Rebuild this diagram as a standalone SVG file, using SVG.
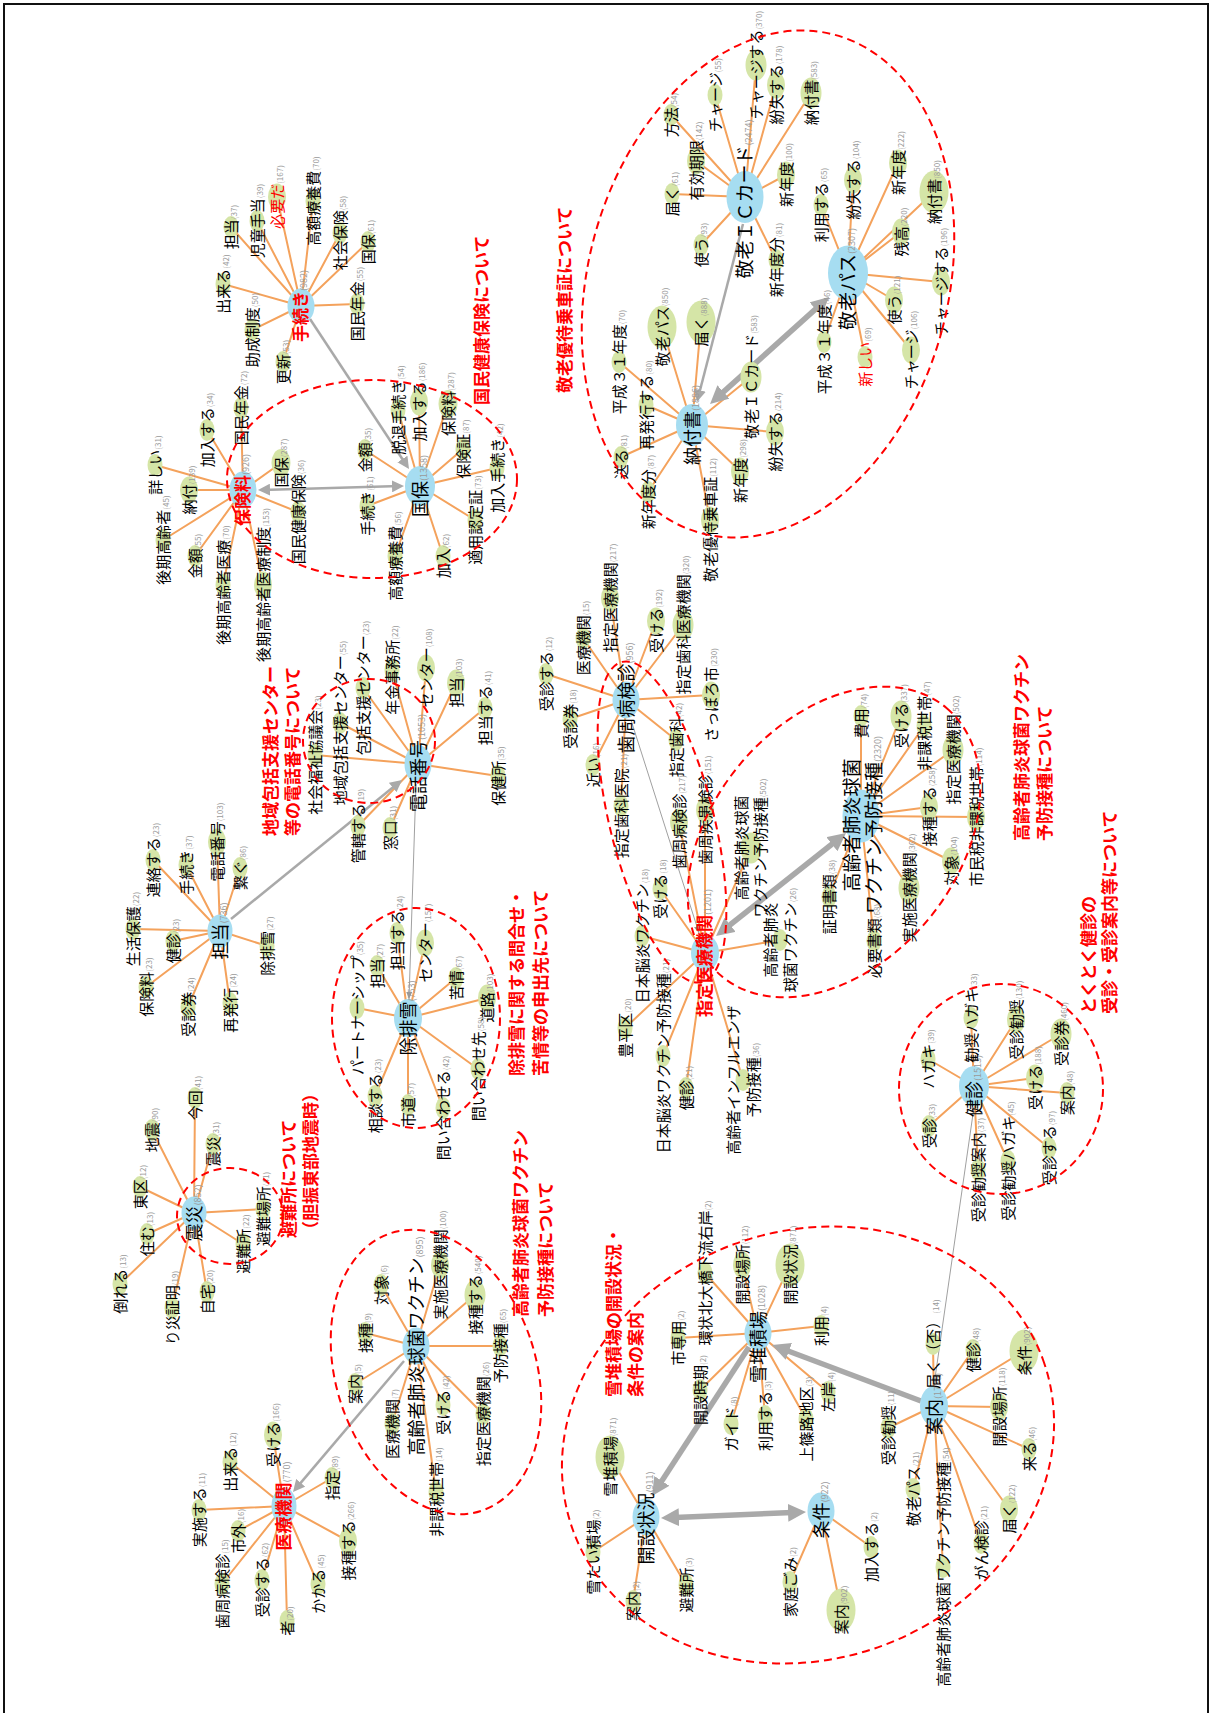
<svg xmlns="http://www.w3.org/2000/svg" width="1210" height="1713" viewBox="0 0 1210 1713">
<style>
.hub{fill:#a6ddf1}
.lf{fill:#d5e5a7}
.e{fill:none;stroke:#f4a25c;stroke-width:2}
.g1{fill:none;stroke:#a9a9a9;stroke-width:2.5}
.g2{fill:none;stroke:#a9a9a9;stroke-width:5.5}
.g0{fill:none;stroke:#a0a0a0;stroke-width:1}
.cl{fill:none;stroke:#f00;stroke-width:2;stroke-dasharray:8 5}
text{font-family:"Noto Sans CJK JP","Noto Sans CJK SC",sans-serif}
.t{font-size:15px;fill:#000;text-anchor:middle}
.h{font-size:18px}
.r{fill:#f00;font-weight:bold;font-size:17px}
.rt{fill:#f00}
.c{font-size:8px;fill:#9a9a9a;font-weight:normal}
.hc{font-size:9px}
.ttl{font-size:17px;font-weight:bold;fill:#f00}
</style>
<defs>
<marker id="ms" viewBox="0 0 12 12" refX="8" refY="6" markerWidth="12" markerHeight="12" markerUnits="userSpaceOnUse" orient="auto-start-reverse"><path d="M0,0L12,6L0,12z" fill="#a9a9a9"/></marker>
<marker id="ml" viewBox="0 0 18 18" refX="10" refY="9" markerWidth="18" markerHeight="18" markerUnits="userSpaceOnUse" orient="auto-start-reverse"><path d="M0,0L18,9L0,18z" fill="#a9a9a9"/></marker>
<marker id="mt" viewBox="0 0 7 6" refX="7" refY="3" markerWidth="7" markerHeight="6" markerUnits="userSpaceOnUse" orient="auto-start-reverse"><path d="M0,0L7,3L0,6z" fill="#999"/></marker>
</defs>
<rect width="1210" height="1713" fill="#fff"/>
<path d="M4,1713V4H1208V1713" fill="none" stroke="#111" stroke-width="2"/>

<g id="connectors">
<path class="e" d="M301,306L223,284M301,306L231,227M301,306L257,221M301,306L277,197M301,306L313,201M301,306L340,233M301,306L368,242M301,306L357,304M301,306L252,330M301,306L283,362"/>
<path class="e" d="M243,490L155,465M243,490L189,490M243,490L163,540M243,490L195,556M243,490L223,585M243,490L263,585M243,490L298,512M243,490L281,463M243,490L207,430M243,490L241,408"/>
<path class="e" d="M420,486L365,450M420,486L367,506M420,486L395,556M420,486L398,410M420,486L419,402M420,486L448,404M420,486L463,449M420,486L497,468M420,486L475,520M420,486L443,556"/>
<path class="e" d="M745,197L671,115M745,197L696,161M745,197L672,194M745,197L701,245M745,197L715,95M745,197L756,65M745,197L776,85M745,197L811,93M745,197L786,175M745,197L776,260"/>
<path class="e" d="M848,273L821,205M848,273L853,180M848,273L898,163M848,273L901,232M848,273L934,192M848,273L941,282M848,273L894,300M848,273L911,350M848,273L865,357M848,273L824,342"/>
<path class="e" d="M692,425L619,362M692,425L662,327M692,425L701,322M692,425L751,377M692,425L646,405M692,425L775,432M692,425L621,457M692,425L648,492M692,425L710,520M692,425L740,471"/>
<path class="e" d="M418,764L315,755M418,764L340,723M418,764L363,688M418,764L392,670M418,764L358,826M418,764L390,828M418,764L426,668M418,764L456,683M418,764L485,708M418,764L498,776"/>
<path class="e" d="M220,931L133,929M220,931L173,941M220,931L146,987M220,931L188,1007M220,931L230,1003M220,931L267,946M220,931L153,860M220,931L186,865M220,931L217,842M220,931L240,868"/>
<path class="e" d="M408,1018L397,933M408,1018L377,966M408,1018L357,1008M408,1018L375,1096M408,1018L425,943M408,1018L456,978M408,1018L487,998M408,1018L478,1069M408,1018L443,1108M408,1018L408,1105"/>
<path class="e" d="M194,1213L152,1130M194,1213L195,1098M194,1213L213,1144M194,1213L140,1187M194,1213L147,1234M194,1213L263,1209M194,1213L243,1244M194,1213L120,1284M194,1213L172,1308M194,1213L207,1292"/>
<path class="e" d="M284,1506L273,1435M284,1506L230,1462M284,1506L199,1510M284,1506L238,1531M284,1506L222,1584M284,1506L262,1580M284,1506L287,1621M284,1506L318,1584M284,1506L348,1541M284,1506L332,1478"/>
<path class="e" d="M416,1346L365,1333M416,1346L355,1384M416,1346L392,1424M416,1346L381,1285M416,1346L440,1265M416,1346L475,1295M416,1346L500,1346M416,1346L483,1414M416,1346L443,1405M416,1346L436,1492"/>
<path class="e" d="M646,1517L610,1457M646,1517L593,1552M646,1517L633,1601M646,1517L686,1585"/>
<path class="e" d="M758,1333L678,1338M758,1333L700,1390M758,1333L731,1424M758,1333L765,1416M758,1333L806,1419M758,1333L828,1392M758,1333L821,1326M758,1333L742,1265M758,1333L790,1265M758,1333L705,1273"/>
<path class="e" d="M821,1511L871,1547M821,1511L841,1610M821,1511L790,1582"/>
<path class="e" d="M934,1406L933,1344M934,1406L973,1350M934,1406L1024,1351M934,1406L999,1407M934,1406L1029,1449M934,1406L1009,1509M934,1406L981,1543M934,1406L943,1567M934,1406L913,1489M934,1406L888,1428"/>
<path class="e" d="M974,1086L928,1059M974,1086L971,1018M974,1086L1016,1020M974,1086L1061,1034M974,1086L1035,1078M974,1086L1067,1093M974,1086L1049,1148M974,1086L1008,1161M974,1086L978,1170M974,1086L929,1126"/>
<path class="e" d="M626,700L546,674M626,700L583,638M626,700L610,598M626,700L656,621M626,700L683,625M626,700L711,695M626,700L676,740M626,700L570,719M626,700L593,765M626,700L621,806"/>
<path class="e" d="M705,953L660,889M705,953L642,936M705,953L663,1056M705,953L625,1028M705,953L686,1088M705,953L743,1080M705,953L780,940M705,953L751,848M705,953L679,822M705,953L705,810"/>
<path class="e" d="M861,816L861,716M861,816L901,716M861,816L924,726M861,816L953,750M861,816L976,817M861,816L929,807M861,816L951,861M861,816L909,888M861,816L874,941M861,816L829,897"/>
<path class="g1" d="M310,319L406.8,465.7" marker-end="url(#ms)"/>
<path class="g1" d="M262,489.9L400,486.1" marker-start="url(#ms)" marker-end="url(#ms)"/>
<path class="g1" d="M743,224L698,398" marker-end="url(#ms)"/>
<path class="g2" d="M716,398.6L823,302.4" marker-start="url(#ml)" marker-end="url(#ml)"/>
<path class="g1" d="M231,919L398.9,782.5" marker-end="url(#ms)"/>
<path class="g0" d="M416,784L409,999" marker-end="url(#mt)"/>
<path class="g1" d="M404,1361L295.6,1488.9" marker-end="url(#ms)"/>
<path class="g2" d="M749,1347L656.4,1489.3" marker-end="url(#ml)"/>
<path class="g2" d="M669,1517.7L798,1512.3" marker-start="url(#ml)" marker-end="url(#ml)"/>
<path class="g2" d="M921,1401L779.5,1347.8" marker-end="url(#ml)"/>
<path class="g0" d="M974,1107L934,1385" marker-end="url(#mt)"/>
<path class="g2" d="M722.3,931L839.7,838" marker-start="url(#ml)" marker-end="url(#ml)"/>
<path class="g0" d="M631,720L699,933" marker-end="url(#mt)"/>
</g>

<g id="c1">
<g id="h-tetsuzuki"><ellipse class="hub" cx="301" cy="306" rx="13.5" ry="17.5"/><text class="t h r" transform="translate(301,306) rotate(-90)" dy=".38em">手続き<tspan class="c hc">(982)</tspan></text></g>
<g id="c1-1"><ellipse class="lf" cx="223" cy="284" rx="7.5" ry="11"/><text class="t" transform="translate(223,284) rotate(-90)" dy=".38em">出来る<tspan class="c">(42)</tspan></text></g>
<g id="c1-2"><ellipse class="lf" cx="231" cy="227" rx="7.5" ry="11"/><text class="t" transform="translate(231,227) rotate(-90)" dy=".38em">担当<tspan class="c">(37)</tspan></text></g>
<g id="c1-3"><ellipse class="lf" cx="257" cy="221" rx="7.5" ry="11"/><text class="t" transform="translate(257,221) rotate(-90)" dy=".38em">児童手当<tspan class="c">(39)</tspan></text></g>
<g id="c1-4"><ellipse class="lf" cx="277" cy="197" rx="9" ry="13.5"/><text class="t rt" transform="translate(277,197) rotate(-90)" dy=".38em">必要だ<tspan class="c">(167)</tspan></text></g>
<g id="c1-5"><ellipse class="lf" cx="313" cy="201" rx="7.5" ry="11"/><text class="t" transform="translate(313,201) rotate(-90)" dy=".38em">高額療養費<tspan class="c">(70)</tspan></text></g>
<g id="c1-6"><ellipse class="lf" cx="340" cy="233" rx="7.5" ry="11"/><text class="t" transform="translate(340,233) rotate(-90)" dy=".38em">社会保険<tspan class="c">(58)</tspan></text></g>
<g id="c1-7"><ellipse class="lf" cx="368" cy="242" rx="7.5" ry="11"/><text class="t" transform="translate(368,242) rotate(-90)" dy=".38em">国保<tspan class="c">(61)</tspan></text></g>
<g id="c1-8"><ellipse class="lf" cx="357" cy="304" rx="7.5" ry="11"/><text class="t" transform="translate(357,304) rotate(-90)" dy=".38em">国民年金<tspan class="c">(55)</tspan></text></g>
<g id="c1-9"><ellipse class="lf" cx="252" cy="330" rx="7.5" ry="11"/><text class="t" transform="translate(252,330) rotate(-90)" dy=".38em">助成制度<tspan class="c">(50)</tspan></text></g>
<g id="c1-10"><ellipse class="lf" cx="283" cy="362" rx="7.5" ry="11"/><text class="t" transform="translate(283,362) rotate(-90)" dy=".38em">更新<tspan class="c">(53)</tspan></text></g>
</g>

<g id="c2">
<g id="h-hokenryo"><ellipse class="hub" cx="243" cy="490" rx="13.5" ry="18.5"/><text class="t h r" transform="translate(243,490) rotate(-90)" dy=".38em">保険料<tspan class="c hc">(926)</tspan></text></g>
<g id="c2-1"><ellipse class="lf" cx="155" cy="465" rx="7.5" ry="11"/><text class="t" transform="translate(155,465) rotate(-90)" dy=".38em">詳しい<tspan class="c">(31)</tspan></text></g>
<g id="c2-2"><ellipse class="lf" cx="189" cy="490" rx="9" ry="13.5"/><text class="t" transform="translate(189,490) rotate(-90)" dy=".38em">納付<tspan class="c">(139)</tspan></text></g>
<g id="c2-3"><ellipse class="lf" cx="163" cy="540" rx="7.5" ry="11"/><text class="t" transform="translate(163,540) rotate(-90)" dy=".38em">後期高齢者<tspan class="c">(45)</tspan></text></g>
<g id="c2-4"><ellipse class="lf" cx="195" cy="556" rx="7.5" ry="11"/><text class="t" transform="translate(195,556) rotate(-90)" dy=".38em">金額<tspan class="c">(55)</tspan></text></g>
<g id="c2-5"><ellipse class="lf" cx="223" cy="585" rx="7.5" ry="11"/><text class="t" transform="translate(223,585) rotate(-90)" dy=".38em">後期高齢者医療<tspan class="c">(70)</tspan></text></g>
<g id="c2-6"><ellipse class="lf" cx="263" cy="585" rx="9" ry="13.5"/><text class="t" transform="translate(263,585) rotate(-90)" dy=".38em">後期高齢者医療制度<tspan class="c">(153)</tspan></text></g>
<g id="c2-7"><ellipse class="lf" cx="298" cy="512" rx="7.5" ry="11"/><text class="t" transform="translate(298,512) rotate(-90)" dy=".38em">国民健康保険<tspan class="c">(36)</tspan></text></g>
<g id="c2-8"><ellipse class="lf" cx="281" cy="463" rx="9.5" ry="14"/><text class="t" transform="translate(281,463) rotate(-90)" dy=".38em">国保<tspan class="c">(287)</tspan></text></g>
<g id="c2-9"><ellipse class="lf" cx="207" cy="430" rx="7.5" ry="11"/><text class="t" transform="translate(207,430) rotate(-90)" dy=".38em">加入する<tspan class="c">(34)</tspan></text></g>
<g id="c2-10"><ellipse class="lf" cx="241" cy="408" rx="7.5" ry="11"/><text class="t" transform="translate(241,408) rotate(-90)" dy=".38em">国民年金<tspan class="c">(72)</tspan></text></g>
<g id="h-kokuho"><ellipse class="hub" cx="420" cy="486" rx="15" ry="20"/><text class="t h" transform="translate(420,486) rotate(-90)" dy=".38em">国保<tspan class="c hc">(1358)</tspan></text></g>
<g id="c2-11"><ellipse class="lf" cx="365" cy="450" rx="7.5" ry="11"/><text class="t" transform="translate(365,450) rotate(-90)" dy=".38em">金額<tspan class="c">(35)</tspan></text></g>
<g id="c2-12"><ellipse class="lf" cx="367" cy="506" rx="7.5" ry="11"/><text class="t" transform="translate(367,506) rotate(-90)" dy=".38em">手続き<tspan class="c">(61)</tspan></text></g>
<g id="c2-13"><ellipse class="lf" cx="395" cy="556" rx="7.5" ry="11"/><text class="t" transform="translate(395,556) rotate(-90)" dy=".38em">高額療養費<tspan class="c">(56)</tspan></text></g>
<g id="c2-14"><ellipse class="lf" cx="398" cy="410" rx="7.5" ry="11"/><text class="t" transform="translate(398,410) rotate(-90)" dy=".38em">脱退手続き<tspan class="c">(54)</tspan></text></g>
<g id="c2-15"><ellipse class="lf" cx="419" cy="402" rx="9" ry="13.5"/><text class="t" transform="translate(419,402) rotate(-90)" dy=".38em">加入する<tspan class="c">(186)</tspan></text></g>
<g id="c2-16"><ellipse class="lf" cx="448" cy="404" rx="9.5" ry="14"/><text class="t" transform="translate(448,404) rotate(-90)" dy=".38em">保険料<tspan class="c">(287)</tspan></text></g>
<g id="c2-17"><ellipse class="lf" cx="463" cy="449" rx="7.5" ry="11"/><text class="t" transform="translate(463,449) rotate(-90)" dy=".38em">保険証<tspan class="c">(87)</tspan></text></g>
<g id="c2-18"><ellipse class="lf" cx="497" cy="468" rx="7.5" ry="11"/><text class="t" transform="translate(497,468) rotate(-90)" dy=".38em">加入手続き<tspan class="c">(42)</tspan></text></g>
<g id="c2-19"><ellipse class="lf" cx="475" cy="520" rx="7.5" ry="11"/><text class="t" transform="translate(475,520) rotate(-90)" dy=".38em">適用認定証<tspan class="c">(73)</tspan></text></g>
<g id="c2-20"><ellipse class="lf" cx="443" cy="556" rx="7.5" ry="11"/><text class="t" transform="translate(443,556) rotate(-90)" dy=".38em">加入<tspan class="c">(62)</tspan></text></g>
</g>

<g id="c3">
<g id="h-iccard"><ellipse class="hub" cx="745" cy="197" rx="18.5" ry="26"/><text class="t h" style="font-size:19px" transform="translate(745,199) rotate(-90)" dy=".38em">敬老ＩＣカード<tspan class="c hc">(2474)</tspan></text></g>
<g id="h-pass"><ellipse class="hub" cx="848" cy="273" rx="20" ry="27.5"/><text class="t h" style="font-size:19px" transform="translate(848,279) rotate(-90)" dy=".38em">敬老パス<tspan class="c hc">(2307)</tspan></text></g>
<g id="h-nofusho"><ellipse class="hub" cx="692" cy="425" rx="16" ry="21"/><text class="t h" transform="translate(692,425) rotate(-90)" dy=".38em">納付書<tspan class="c hc">(1886)</tspan></text></g>
<g id="c3-1"><ellipse class="lf" cx="671" cy="115" rx="7.5" ry="11"/><text class="t" transform="translate(671,115) rotate(-90)" dy=".38em">方法<tspan class="c">(54)</tspan></text></g>
<g id="c3-2"><ellipse class="lf" cx="696" cy="161" rx="9" ry="13.5"/><text class="t" transform="translate(696,161) rotate(-90)" dy=".38em">有効期限<tspan class="c">(142)</tspan></text></g>
<g id="c3-3"><ellipse class="lf" cx="672" cy="194" rx="7.5" ry="11"/><text class="t" transform="translate(672,194) rotate(-90)" dy=".38em">届く<tspan class="c">(61)</tspan></text></g>
<g id="c3-4"><ellipse class="lf" cx="701" cy="245" rx="7.5" ry="11"/><text class="t" transform="translate(701,245) rotate(-90)" dy=".38em">使う<tspan class="c">(93)</tspan></text></g>
<g id="c3-5"><ellipse class="lf" cx="715" cy="95" rx="7.5" ry="11"/><text class="t" transform="translate(715,95) rotate(-90)" dy=".38em">チャージ<tspan class="c">(55)</tspan></text></g>
<g id="c3-6"><ellipse class="lf" cx="756" cy="65" rx="10.5" ry="15.5"/><text class="t" transform="translate(756,65) rotate(-90)" dy=".38em">チャージする<tspan class="c">(370)</tspan></text></g>
<g id="c3-7"><ellipse class="lf" cx="776" cy="85" rx="9" ry="13.5"/><text class="t" transform="translate(776,85) rotate(-90)" dy=".38em">紛失する<tspan class="c">(178)</tspan></text></g>
<g id="c3-8"><ellipse class="lf" cx="811" cy="93" rx="10.5" ry="15.5"/><text class="t" transform="translate(811,93) rotate(-90)" dy=".38em">納付書<tspan class="c">(583)</tspan></text></g>
<g id="c3-9"><ellipse class="lf" cx="786" cy="175" rx="9" ry="13.5"/><text class="t" transform="translate(786,175) rotate(-90)" dy=".38em">新年度<tspan class="c">(100)</tspan></text></g>
<g id="c3-10"><ellipse class="lf" cx="776" cy="260" rx="7.5" ry="11"/><text class="t" transform="translate(776,260) rotate(-90)" dy=".38em">新年度分<tspan class="c">(81)</tspan></text></g>
<g id="c3-11"><ellipse class="lf" cx="821" cy="205" rx="7.5" ry="11"/><text class="t" transform="translate(821,205) rotate(-90)" dy=".38em">利用する<tspan class="c">(65)</tspan></text></g>
<g id="c3-12"><ellipse class="lf" cx="853" cy="180" rx="9" ry="13.5"/><text class="t" transform="translate(853,180) rotate(-90)" dy=".38em">紛失する<tspan class="c">(104)</tspan></text></g>
<g id="c3-13"><ellipse class="lf" cx="898" cy="163" rx="9" ry="13.5"/><text class="t" transform="translate(898,163) rotate(-90)" dy=".38em">新年度<tspan class="c">(222)</tspan></text></g>
<g id="c3-14"><ellipse class="lf" cx="901" cy="232" rx="9" ry="13.5"/><text class="t" transform="translate(901,232) rotate(-90)" dy=".38em">残高<tspan class="c">(220)</tspan></text></g>
<g id="c3-15"><ellipse class="lf" cx="934" cy="192" rx="14.5" ry="21.5"/><text class="t" transform="translate(934,192) rotate(-90)" dy=".38em">納付書<tspan class="c">(850)</tspan></text></g>
<g id="c3-16"><ellipse class="lf" cx="941" cy="282" rx="9" ry="13.5"/><text class="t" transform="translate(941,282) rotate(-90)" dy=".38em">チャージする<tspan class="c">(196)</tspan></text></g>
<g id="c3-17"><ellipse class="lf" cx="894" cy="300" rx="9" ry="13.5"/><text class="t" transform="translate(894,300) rotate(-90)" dy=".38em">使う<tspan class="c">(121)</tspan></text></g>
<g id="c3-18"><ellipse class="lf" cx="911" cy="350" rx="9" ry="13.5"/><text class="t" transform="translate(911,350) rotate(-90)" dy=".38em">チャージ<tspan class="c">(106)</tspan></text></g>
<g id="c3-19"><ellipse class="lf" cx="865" cy="357" rx="7.5" ry="11"/><text class="t rt" transform="translate(865,357) rotate(-90)" dy=".38em">新しい<tspan class="c">(69)</tspan></text></g>
<g id="c3-20"><ellipse class="lf" cx="824" cy="342" rx="7.5" ry="11"/><text class="t" transform="translate(824,342) rotate(-90)" dy=".38em">平成３１年度<tspan class="c">(46)</tspan></text></g>
<g id="c3-21"><ellipse class="lf" cx="619" cy="362" rx="7.5" ry="11"/><text class="t" transform="translate(619,362) rotate(-90)" dy=".38em">平成３１年度<tspan class="c">(70)</tspan></text></g>
<g id="c3-22"><ellipse class="lf" cx="662" cy="327" rx="14.5" ry="21.5"/><text class="t" transform="translate(662,327) rotate(-90)" dy=".38em">敬老パス<tspan class="c">(850)</tspan></text></g>
<g id="c3-23"><ellipse class="lf" cx="701" cy="322" rx="14.5" ry="21.5"/><text class="t" transform="translate(701,322) rotate(-90)" dy=".38em">届く<tspan class="c">(888)</tspan></text></g>
<g id="c3-24"><ellipse class="lf" cx="751" cy="377" rx="10.5" ry="15.5"/><text class="t" transform="translate(751,377) rotate(-90)" dy=".38em">敬老ＩＣカード<tspan class="c">(583)</tspan></text></g>
<g id="c3-25"><ellipse class="lf" cx="646" cy="405" rx="7.5" ry="11"/><text class="t" transform="translate(646,405) rotate(-90)" dy=".38em">再発行する<tspan class="c">(80)</tspan></text></g>
<g id="c3-26"><ellipse class="lf" cx="775" cy="432" rx="9" ry="13.5"/><text class="t" transform="translate(775,432) rotate(-90)" dy=".38em">紛失する<tspan class="c">(214)</tspan></text></g>
<g id="c3-27"><ellipse class="lf" cx="621" cy="457" rx="7.5" ry="11"/><text class="t" transform="translate(621,457) rotate(-90)" dy=".38em">送る<tspan class="c">(81)</tspan></text></g>
<g id="c3-28"><ellipse class="lf" cx="648" cy="492" rx="7.5" ry="11"/><text class="t" transform="translate(648,492) rotate(-90)" dy=".38em">新年度分<tspan class="c">(87)</tspan></text></g>
<g id="c3-29"><ellipse class="lf" cx="710" cy="520" rx="9" ry="13.5"/><text class="t" transform="translate(710,520) rotate(-90)" dy=".38em">敬老優待乗車証<tspan class="c">(112)</tspan></text></g>
<g id="c3-30"><ellipse class="lf" cx="740" cy="471" rx="9" ry="13.5"/><text class="t" transform="translate(740,471) rotate(-90)" dy=".38em">新年度<tspan class="c">(298)</tspan></text></g>
</g>

<g id="c4">
<g id="h-denwa"><ellipse class="hub" cx="418" cy="764" rx="13.5" ry="19"/><text class="t h" transform="translate(418,763) rotate(-90)" dy=".38em">電話番号<tspan class="c hc">(1053)</tspan></text></g>
<g id="c4-1"><ellipse class="lf" cx="315" cy="755" rx="7.5" ry="11"/><text class="t" transform="translate(315,755) rotate(-90)" dy=".38em">社会福祉協議会<tspan class="c">(23)</tspan></text></g>
<g id="c4-2"><ellipse class="lf" cx="340" cy="723" rx="7.5" ry="11"/><text class="t" transform="translate(340,723) rotate(-90)" dy=".38em">地域包括支援センター<tspan class="c">(55)</tspan></text></g>
<g id="c4-3"><ellipse class="lf" cx="363" cy="688" rx="7.5" ry="11"/><text class="t" transform="translate(363,688) rotate(-90)" dy=".38em">包括支援センター<tspan class="c">(23)</tspan></text></g>
<g id="c4-4"><ellipse class="lf" cx="392" cy="670" rx="7.5" ry="11"/><text class="t" transform="translate(392,670) rotate(-90)" dy=".38em">年金事務所<tspan class="c">(22)</tspan></text></g>
<g id="c4-5"><ellipse class="lf" cx="358" cy="826" rx="7.5" ry="11"/><text class="t" transform="translate(358,826) rotate(-90)" dy=".38em">管轄する<tspan class="c">(19)</tspan></text></g>
<g id="c4-6"><ellipse class="lf" cx="390" cy="828" rx="7.5" ry="11"/><text class="t" transform="translate(390,828) rotate(-90)" dy=".38em">窓口<tspan class="c">(31)</tspan></text></g>
<g id="c4-7"><ellipse class="lf" cx="426" cy="668" rx="9" ry="13.5"/><text class="t" transform="translate(426,668) rotate(-90)" dy=".38em">センター<tspan class="c">(108)</tspan></text></g>
<g id="c4-8"><ellipse class="lf" cx="456" cy="683" rx="9" ry="13.5"/><text class="t" transform="translate(456,683) rotate(-90)" dy=".38em">担当<tspan class="c">(103)</tspan></text></g>
<g id="c4-9"><ellipse class="lf" cx="485" cy="708" rx="7.5" ry="11"/><text class="t" transform="translate(485,708) rotate(-90)" dy=".38em">担当する<tspan class="c">(41)</tspan></text></g>
<g id="c4-10"><ellipse class="lf" cx="498" cy="776" rx="7.5" ry="11"/><text class="t" transform="translate(498,776) rotate(-90)" dy=".38em">保健所<tspan class="c">(35)</tspan></text></g>
<g id="h-tanto"><ellipse class="hub" cx="220" cy="931" rx="12.5" ry="16.5"/><text class="t h" transform="translate(220,931) rotate(-90)" dy=".38em">担当<tspan class="c hc">(736)</tspan></text></g>
<g id="c4-11"><ellipse class="lf" cx="133" cy="929" rx="7.5" ry="11"/><text class="t" transform="translate(133,929) rotate(-90)" dy=".38em">生活保護<tspan class="c">(22)</tspan></text></g>
<g id="c4-12"><ellipse class="lf" cx="173" cy="941" rx="7.5" ry="11"/><text class="t" transform="translate(173,941) rotate(-90)" dy=".38em">健診<tspan class="c">(23)</tspan></text></g>
<g id="c4-13"><ellipse class="lf" cx="146" cy="987" rx="7.5" ry="11"/><text class="t" transform="translate(146,987) rotate(-90)" dy=".38em">保険料<tspan class="c">(23)</tspan></text></g>
<g id="c4-14"><ellipse class="lf" cx="188" cy="1007" rx="7.5" ry="11"/><text class="t" transform="translate(188,1007) rotate(-90)" dy=".38em">受診券<tspan class="c">(24)</tspan></text></g>
<g id="c4-15"><ellipse class="lf" cx="230" cy="1003" rx="7.5" ry="11"/><text class="t" transform="translate(230,1003) rotate(-90)" dy=".38em">再発行<tspan class="c">(24)</tspan></text></g>
<g id="c4-16"><ellipse class="lf" cx="267" cy="946" rx="7.5" ry="11"/><text class="t" transform="translate(267,946) rotate(-90)" dy=".38em">除排雪<tspan class="c">(27)</tspan></text></g>
<g id="c4-17"><ellipse class="lf" cx="153" cy="860" rx="7.5" ry="11"/><text class="t" transform="translate(153,860) rotate(-90)" dy=".38em">連絡する<tspan class="c">(23)</tspan></text></g>
<g id="c4-18"><ellipse class="lf" cx="186" cy="865" rx="7.5" ry="11"/><text class="t" transform="translate(186,865) rotate(-90)" dy=".38em">手続き<tspan class="c">(37)</tspan></text></g>
<g id="c4-19"><ellipse class="lf" cx="217" cy="842" rx="9" ry="13.5"/><text class="t" transform="translate(217,842) rotate(-90)" dy=".38em">電話番号<tspan class="c">(103)</tspan></text></g>
<g id="c4-20"><ellipse class="lf" cx="240" cy="868" rx="7.5" ry="11"/><text class="t" transform="translate(240,868) rotate(-90)" dy=".38em">繋ぐ<tspan class="c">(86)</tspan></text></g>
</g>

<g id="c5">
<g id="h-johaisetsu"><ellipse class="hub" cx="408" cy="1018" rx="14" ry="19"/><text class="t h" transform="translate(408,1018) rotate(-90)" dy=".38em">除排雪<tspan class="c hc">(753)</tspan></text></g>
<g id="c5-1"><ellipse class="lf" cx="397" cy="933" rx="7.5" ry="11"/><text class="t" transform="translate(397,933) rotate(-90)" dy=".38em">担当する<tspan class="c">(24)</tspan></text></g>
<g id="c5-2"><ellipse class="lf" cx="377" cy="966" rx="7.5" ry="11"/><text class="t" transform="translate(377,966) rotate(-90)" dy=".38em">担当<tspan class="c">(27)</tspan></text></g>
<g id="c5-3"><ellipse class="lf" cx="357" cy="1008" rx="7.5" ry="11"/><text class="t" transform="translate(357,1008) rotate(-90)" dy=".38em">パートナーシップ<tspan class="c">(35)</tspan></text></g>
<g id="c5-4"><ellipse class="lf" cx="375" cy="1096" rx="7.5" ry="11"/><text class="t" transform="translate(375,1096) rotate(-90)" dy=".38em">相談する<tspan class="c">(23)</tspan></text></g>
<g id="c5-5"><ellipse class="lf" cx="425" cy="943" rx="9" ry="13.5"/><text class="t" transform="translate(425,943) rotate(-90)" dy=".38em">センター<tspan class="c">(157)</tspan></text></g>
<g id="c5-6"><ellipse class="lf" cx="456" cy="978" rx="7.5" ry="11"/><text class="t" transform="translate(456,978) rotate(-90)" dy=".38em">苦情<tspan class="c">(67)</tspan></text></g>
<g id="c5-7"><ellipse class="lf" cx="487" cy="998" rx="9" ry="13.5"/><text class="t" transform="translate(487,998) rotate(-90)" dy=".38em">道路<tspan class="c">(103)</tspan></text></g>
<g id="c5-8"><ellipse class="lf" cx="478" cy="1069" rx="7.5" ry="11"/><text class="t" transform="translate(478,1069) rotate(-90)" dy=".38em">問い合わせ先<tspan class="c">(58)</tspan></text></g>
<g id="c5-9"><ellipse class="lf" cx="443" cy="1108" rx="7.5" ry="11"/><text class="t" transform="translate(443,1108) rotate(-90)" dy=".38em">問い合わせる<tspan class="c">(42)</tspan></text></g>
<g id="c5-10"><ellipse class="lf" cx="408" cy="1105" rx="7.5" ry="11"/><text class="t" transform="translate(408,1105) rotate(-90)" dy=".38em">市道<tspan class="c">(57)</tspan></text></g>
</g>

<g id="c6">
<g id="h-shinsai"><ellipse class="hub" cx="194" cy="1213" rx="12.5" ry="16.5"/><text class="t h" transform="translate(194,1213) rotate(-90)" dy=".38em">震災<tspan class="c hc">(852)</tspan></text></g>
<g id="c6-1"><ellipse class="lf" cx="152" cy="1130" rx="7.5" ry="11"/><text class="t" transform="translate(152,1130) rotate(-90)" dy=".38em">地震<tspan class="c">(90)</tspan></text></g>
<g id="c6-2"><ellipse class="lf" cx="195" cy="1098" rx="7.5" ry="11"/><text class="t" transform="translate(195,1098) rotate(-90)" dy=".38em">今回<tspan class="c">(41)</tspan></text></g>
<g id="c6-3"><ellipse class="lf" cx="213" cy="1144" rx="7.5" ry="11"/><text class="t" transform="translate(213,1144) rotate(-90)" dy=".38em">震災<tspan class="c">(31)</tspan></text></g>
<g id="c6-4"><ellipse class="lf" cx="140" cy="1187" rx="7.5" ry="11"/><text class="t" transform="translate(140,1187) rotate(-90)" dy=".38em">東区<tspan class="c">(12)</tspan></text></g>
<g id="c6-5"><ellipse class="lf" cx="147" cy="1234" rx="7.5" ry="11"/><text class="t" transform="translate(147,1234) rotate(-90)" dy=".38em">住む<tspan class="c">(13)</tspan></text></g>
<g id="c6-6"><ellipse class="lf" cx="263" cy="1209" rx="7.5" ry="11"/><text class="t" transform="translate(263,1209) rotate(-90)" dy=".38em">避難場所<tspan class="c">(41)</tspan></text></g>
<g id="c6-7"><ellipse class="lf" cx="243" cy="1244" rx="7.5" ry="11"/><text class="t" transform="translate(243,1244) rotate(-90)" dy=".38em">避難所<tspan class="c">(22)</tspan></text></g>
<g id="c6-8"><ellipse class="lf" cx="120" cy="1284" rx="7.5" ry="11"/><text class="t" transform="translate(120,1284) rotate(-90)" dy=".38em">倒れる<tspan class="c">(13)</tspan></text></g>
<g id="c6-9"><ellipse class="lf" cx="172" cy="1308" rx="7.5" ry="11"/><text class="t" transform="translate(172,1308) rotate(-90)" dy=".38em">り災証明<tspan class="c">(19)</tspan></text></g>
<g id="c6-10"><ellipse class="lf" cx="207" cy="1292" rx="7.5" ry="11"/><text class="t" transform="translate(207,1292) rotate(-90)" dy=".38em">自宅<tspan class="c">(20)</tspan></text></g>
</g>

<g id="c7">
<g id="h-iryokikan"><ellipse class="hub" cx="284" cy="1506" rx="12.5" ry="18.5"/><text class="t h r" transform="translate(284,1506) rotate(-90)" dy=".38em">医療機関<tspan class="c hc">(770)</tspan></text></g>
<g id="c7-1"><ellipse class="lf" cx="273" cy="1435" rx="9" ry="13.5"/><text class="t" transform="translate(273,1435) rotate(-90)" dy=".38em">受ける<tspan class="c">(166)</tspan></text></g>
<g id="c7-2"><ellipse class="lf" cx="230" cy="1462" rx="7.5" ry="11"/><text class="t" transform="translate(230,1462) rotate(-90)" dy=".38em">出来る<tspan class="c">(12)</tspan></text></g>
<g id="c7-3"><ellipse class="lf" cx="199" cy="1510" rx="7.5" ry="11"/><text class="t" transform="translate(199,1510) rotate(-90)" dy=".38em">実施する<tspan class="c">(11)</tspan></text></g>
<g id="c7-4"><ellipse class="lf" cx="238" cy="1531" rx="7.5" ry="11"/><text class="t" transform="translate(238,1531) rotate(-90)" dy=".38em">市外<tspan class="c">(16)</tspan></text></g>
<g id="c7-5"><ellipse class="lf" cx="222" cy="1584" rx="7.5" ry="11"/><text class="t" transform="translate(222,1584) rotate(-90)" dy=".38em">歯周病検診<tspan class="c">(15)</tspan></text></g>
<g id="c7-6"><ellipse class="lf" cx="262" cy="1580" rx="7.5" ry="11"/><text class="t" transform="translate(262,1580) rotate(-90)" dy=".38em">受診する<tspan class="c">(62)</tspan></text></g>
<g id="c7-7"><ellipse class="lf" cx="287" cy="1621" rx="7.5" ry="11"/><text class="t" transform="translate(287,1621) rotate(-90)" dy=".38em">者<tspan class="c">(20)</tspan></text></g>
<g id="c7-8"><ellipse class="lf" cx="318" cy="1584" rx="7.5" ry="11"/><text class="t" transform="translate(318,1584) rotate(-90)" dy=".38em">かかる<tspan class="c">(45)</tspan></text></g>
<g id="c7-9"><ellipse class="lf" cx="348" cy="1541" rx="9" ry="13.5"/><text class="t" transform="translate(348,1541) rotate(-90)" dy=".38em">接種する<tspan class="c">(266)</tspan></text></g>
<g id="c7-10"><ellipse class="lf" cx="332" cy="1478" rx="7.5" ry="11"/><text class="t" transform="translate(332,1478) rotate(-90)" dy=".38em">指定<tspan class="c">(89)</tspan></text></g>
</g>

<g id="c8">
<g id="h-haien"><ellipse class="hub" cx="416" cy="1346" rx="13.5" ry="18.5"/><text class="t h" transform="translate(416,1346) rotate(-90)" dy=".38em">高齢者肺炎球菌ワクチン<tspan class="c hc">(895)</tspan></text></g>
<g id="c8-1"><ellipse class="lf" cx="365" cy="1333" rx="7.5" ry="11"/><text class="t" transform="translate(365,1333) rotate(-90)" dy=".38em">接種<tspan class="c">(9)</tspan></text></g>
<g id="c8-2"><ellipse class="lf" cx="355" cy="1384" rx="7.5" ry="11"/><text class="t" transform="translate(355,1384) rotate(-90)" dy=".38em">案内<tspan class="c">(5)</tspan></text></g>
<g id="c8-3"><ellipse class="lf" cx="392" cy="1424" rx="7.5" ry="11"/><text class="t" transform="translate(392,1424) rotate(-90)" dy=".38em">医療機関<tspan class="c">(7)</tspan></text></g>
<g id="c8-4"><ellipse class="lf" cx="381" cy="1285" rx="7.5" ry="11"/><text class="t" transform="translate(381,1285) rotate(-90)" dy=".38em">対象<tspan class="c">(6)</tspan></text></g>
<g id="c8-5"><ellipse class="lf" cx="440" cy="1265" rx="9" ry="13.5"/><text class="t" transform="translate(440,1265) rotate(-90)" dy=".38em">実施医療機関<tspan class="c">(100)</tspan></text></g>
<g id="c8-6"><ellipse class="lf" cx="475" cy="1295" rx="10.5" ry="15.5"/><text class="t" transform="translate(475,1295) rotate(-90)" dy=".38em">接種する<tspan class="c">(540)</tspan></text></g>
<g id="c8-7"><ellipse class="lf" cx="500" cy="1346" rx="7.5" ry="11"/><text class="t" transform="translate(500,1346) rotate(-90)" dy=".38em">予防接種<tspan class="c">(65)</tspan></text></g>
<g id="c8-8"><ellipse class="lf" cx="483" cy="1414" rx="7.5" ry="11"/><text class="t" transform="translate(483,1414) rotate(-90)" dy=".38em">指定医療機関<tspan class="c">(26)</tspan></text></g>
<g id="c8-9"><ellipse class="lf" cx="443" cy="1405" rx="7.5" ry="11"/><text class="t" transform="translate(443,1405) rotate(-90)" dy=".38em">受ける<tspan class="c">(42)</tspan></text></g>
<g id="c8-10"><ellipse class="lf" cx="436" cy="1492" rx="7.5" ry="11"/><text class="t" transform="translate(436,1492) rotate(-90)" dy=".38em">非課税世帯<tspan class="c">(14)</tspan></text></g>
</g>

<g id="c9">
<g id="h-kaisetsu"><ellipse class="hub" cx="646" cy="1517" rx="13.5" ry="18.5"/><text class="t h" transform="translate(646,1518) rotate(-90)" dy=".38em">開設状況<tspan class="c hc">(911)</tspan></text></g>
<g id="h-yukitaiseki"><ellipse class="hub" cx="758" cy="1333" rx="13.5" ry="17.5"/><text class="t h" transform="translate(758,1334) rotate(-90)" dy=".38em">雪堆積場<tspan class="c hc">(1028)</tspan></text></g>
<g id="h-joken"><ellipse class="hub" cx="821" cy="1511" rx="13.5" ry="18.5"/><text class="t h" transform="translate(821,1510) rotate(-90)" dy=".38em">条件<tspan class="c hc">(922)</tspan></text></g>
<g id="h-annai"><ellipse class="hub" cx="934" cy="1406" rx="14" ry="20"/><text class="t h" transform="translate(934,1404) rotate(-90)" dy=".38em">案内<tspan class="c hc">(1736)</tspan></text></g>
<g id="c9-1"><ellipse class="lf" cx="610" cy="1457" rx="14.5" ry="21.5"/><text class="t" transform="translate(610,1457) rotate(-90)" dy=".38em">雪堆積場<tspan class="c">(871)</tspan></text></g>
<g id="c9-2"><ellipse class="lf" cx="593" cy="1552" rx="7.5" ry="11"/><text class="t" transform="translate(593,1552) rotate(-90)" dy=".38em">雪たい積場<tspan class="c">(2)</tspan></text></g>
<g id="c9-3"><ellipse class="lf" cx="633" cy="1601" rx="7.5" ry="11"/><text class="t" transform="translate(633,1601) rotate(-90)" dy=".38em">案内<tspan class="c">(2)</tspan></text></g>
<g id="c9-4"><ellipse class="lf" cx="686" cy="1585" rx="7.5" ry="11"/><text class="t" transform="translate(686,1585) rotate(-90)" dy=".38em">避難所<tspan class="c">(3)</tspan></text></g>
<g id="c9-5"><ellipse class="lf" cx="678" cy="1338" rx="7.5" ry="11"/><text class="t" transform="translate(678,1338) rotate(-90)" dy=".38em">市専用<tspan class="c">(2)</tspan></text></g>
<g id="c9-6"><ellipse class="lf" cx="700" cy="1390" rx="7.5" ry="11"/><text class="t" transform="translate(700,1390) rotate(-90)" dy=".38em">開設時期<tspan class="c">(2)</tspan></text></g>
<g id="c9-7"><ellipse class="lf" cx="731" cy="1424" rx="7.5" ry="11"/><text class="t" transform="translate(731,1424) rotate(-90)" dy=".38em">ガイド<tspan class="c">(8)</tspan></text></g>
<g id="c9-8"><ellipse class="lf" cx="765" cy="1416" rx="7.5" ry="11"/><text class="t" transform="translate(765,1416) rotate(-90)" dy=".38em">利用する<tspan class="c">(3)</tspan></text></g>
<g id="c9-9"><ellipse class="lf" cx="806" cy="1419" rx="7.5" ry="11"/><text class="t" transform="translate(806,1419) rotate(-90)" dy=".38em">上篠路地区<tspan class="c">(3)</tspan></text></g>
<g id="c9-10"><ellipse class="lf" cx="828" cy="1392" rx="7.5" ry="11"/><text class="t" transform="translate(828,1392) rotate(-90)" dy=".38em">左岸<tspan class="c">(4)</tspan></text></g>
<g id="c9-11"><ellipse class="lf" cx="821" cy="1326" rx="7.5" ry="11"/><text class="t" transform="translate(821,1326) rotate(-90)" dy=".38em">利用<tspan class="c">(4)</tspan></text></g>
<g id="c9-12"><ellipse class="lf" cx="742" cy="1265" rx="9" ry="13.5"/><text class="t" transform="translate(742,1265) rotate(-90)" dy=".38em">開設場所<tspan class="c">(112)</tspan></text></g>
<g id="c9-13"><ellipse class="lf" cx="790" cy="1265" rx="14.5" ry="21.5"/><text class="t" transform="translate(790,1265) rotate(-90)" dy=".38em">開設状況<tspan class="c">(871)</tspan></text></g>
<g id="c9-14"><ellipse class="lf" cx="705" cy="1273" rx="7.5" ry="11"/><text class="t" transform="translate(705,1273) rotate(-90)" dy=".38em">環状北大橋下流右岸<tspan class="c">(2)</tspan></text></g>
<g id="c9-15"><ellipse class="lf" cx="871" cy="1547" rx="7.5" ry="11"/><text class="t" transform="translate(871,1547) rotate(-90)" dy=".38em">加入する<tspan class="c">(2)</tspan></text></g>
<g id="c9-16"><ellipse class="lf" cx="841" cy="1610" rx="14.5" ry="21.5"/><text class="t" transform="translate(841,1610) rotate(-90)" dy=".38em">案内<tspan class="c">(902)</tspan></text></g>
<g id="c9-17"><ellipse class="lf" cx="790" cy="1582" rx="7.5" ry="11"/><text class="t" transform="translate(790,1582) rotate(-90)" dy=".38em">家庭ごみ<tspan class="c">(2)</tspan></text></g>
<g id="c9-18"><ellipse class="lf" cx="933" cy="1344" rx="7.5" ry="11"/><text class="t" transform="translate(933,1344) rotate(-90)" dy=".38em">届く（否）<tspan class="c">(14)</tspan></text></g>
<g id="c9-19"><ellipse class="lf" cx="973" cy="1350" rx="7.5" ry="11"/><text class="t" transform="translate(973,1350) rotate(-90)" dy=".38em">健診<tspan class="c">(48)</tspan></text></g>
<g id="c9-20"><ellipse class="lf" cx="1024" cy="1351" rx="14.5" ry="21.5"/><text class="t" transform="translate(1024,1351) rotate(-90)" dy=".38em">条件<tspan class="c">(902)</tspan></text></g>
<g id="c9-21"><ellipse class="lf" cx="999" cy="1407" rx="9" ry="13.5"/><text class="t" transform="translate(999,1407) rotate(-90)" dy=".38em">開設場所<tspan class="c">(118)</tspan></text></g>
<g id="c9-22"><ellipse class="lf" cx="1029" cy="1449" rx="7.5" ry="11"/><text class="t" transform="translate(1029,1449) rotate(-90)" dy=".38em">来る<tspan class="c">(46)</tspan></text></g>
<g id="c9-23"><ellipse class="lf" cx="1009" cy="1509" rx="9" ry="13.5"/><text class="t" transform="translate(1009,1509) rotate(-90)" dy=".38em">届く<tspan class="c">(122)</tspan></text></g>
<g id="c9-24"><ellipse class="lf" cx="981" cy="1543" rx="7.5" ry="11"/><text class="t" transform="translate(981,1543) rotate(-90)" dy=".38em">がん検診<tspan class="c">(21)</tspan></text></g>
<g id="c9-25"><ellipse class="lf" cx="943" cy="1567" rx="7.5" ry="11"/><text class="t" transform="translate(943,1567) rotate(-90)" dy=".38em">高齢者肺炎球菌ワクチン予防接種<tspan class="c">(54)</tspan></text></g>
<g id="c9-26"><ellipse class="lf" cx="913" cy="1489" rx="7.5" ry="11"/><text class="t" transform="translate(913,1489) rotate(-90)" dy=".38em">敬老パス<tspan class="c">(21)</tspan></text></g>
<g id="c9-27"><ellipse class="lf" cx="888" cy="1428" rx="7.5" ry="11"/><text class="t" transform="translate(888,1428) rotate(-90)" dy=".38em">受診勧奨<tspan class="c">(11)</tspan></text></g>
</g>

<g id="c10">
<g id="h-kenshin"><ellipse class="hub" cx="974" cy="1086" rx="15" ry="20"/><text class="t h" transform="translate(974,1086) rotate(-90)" dy=".38em">健診<tspan class="c hc">(1513)</tspan></text></g>
<g id="c10-1"><ellipse class="lf" cx="928" cy="1059" rx="7.5" ry="11"/><text class="t" transform="translate(928,1059) rotate(-90)" dy=".38em">ハガキ<tspan class="c">(39)</tspan></text></g>
<g id="c10-2"><ellipse class="lf" cx="971" cy="1018" rx="7.5" ry="11"/><text class="t" transform="translate(971,1018) rotate(-90)" dy=".38em">勧奨ハガキ<tspan class="c">(33)</tspan></text></g>
<g id="c10-3"><ellipse class="lf" cx="1016" cy="1020" rx="9" ry="13.5"/><text class="t" transform="translate(1016,1020) rotate(-90)" dy=".38em">受診勧奨<tspan class="c">(130)</tspan></text></g>
<g id="c10-4"><ellipse class="lf" cx="1061" cy="1034" rx="10.5" ry="15.5"/><text class="t" transform="translate(1061,1034) rotate(-90)" dy=".38em">受診券<tspan class="c">(460)</tspan></text></g>
<g id="c10-5"><ellipse class="lf" cx="1035" cy="1078" rx="9" ry="13.5"/><text class="t" transform="translate(1035,1078) rotate(-90)" dy=".38em">受ける<tspan class="c">(188)</tspan></text></g>
<g id="c10-6"><ellipse class="lf" cx="1067" cy="1093" rx="7.5" ry="11"/><text class="t" transform="translate(1067,1093) rotate(-90)" dy=".38em">案内<tspan class="c">(48)</tspan></text></g>
<g id="c10-7"><ellipse class="lf" cx="1049" cy="1148" rx="7.5" ry="11"/><text class="t" transform="translate(1049,1148) rotate(-90)" dy=".38em">受診する<tspan class="c">(97)</tspan></text></g>
<g id="c10-8"><ellipse class="lf" cx="1008" cy="1161" rx="7.5" ry="11"/><text class="t" transform="translate(1008,1161) rotate(-90)" dy=".38em">受診勧奨ハガキ<tspan class="c">(45)</tspan></text></g>
<g id="c10-9"><ellipse class="lf" cx="978" cy="1170" rx="7.5" ry="11"/><text class="t" transform="translate(978,1170) rotate(-90)" dy=".38em">受診勧奨案内<tspan class="c">(37)</tspan></text></g>
<g id="c10-10"><ellipse class="lf" cx="929" cy="1126" rx="7.5" ry="11"/><text class="t" transform="translate(929,1126) rotate(-90)" dy=".38em">受診<tspan class="c">(33)</tspan></text></g>
</g>

<g id="c11">
<g id="h-shishu"><ellipse class="hub" cx="626" cy="700" rx="13.5" ry="18.5"/><text class="t h" transform="translate(626,698) rotate(-90)" dy=".38em">歯周病検診<tspan class="c hc">(956)</tspan></text></g>
<g id="h-shitei"><ellipse class="hub" cx="705" cy="953" rx="14" ry="18.5"/><text class="t h r" transform="translate(705,953) rotate(-90)" dy=".38em">指定医療機関<tspan class="c hc">(1201)</tspan></text></g>
<g id="h-haienyobo"><ellipse class="hub" cx="861" cy="816" rx="18.5" ry="26.5"/><text class="t h" style="font-size:19px" transform="translate(863,825) rotate(-90)"><tspan x="0" y="-3.8">高齢者肺炎球菌</tspan><tspan x="0" y="18.2">ワクチン予防接種<tspan class="c hc">(2320)</tspan></tspan></text></g>
<g id="c11-1"><ellipse class="lf" cx="546" cy="674" rx="7.5" ry="11"/><text class="t" transform="translate(546,674) rotate(-90)" dy=".38em">受診する<tspan class="c">(12)</tspan></text></g>
<g id="c11-2"><ellipse class="lf" cx="583" cy="638" rx="7.5" ry="11"/><text class="t" transform="translate(583,638) rotate(-90)" dy=".38em">医療機関<tspan class="c">(15)</tspan></text></g>
<g id="c11-3"><ellipse class="lf" cx="610" cy="598" rx="9" ry="13.5"/><text class="t" transform="translate(610,598) rotate(-90)" dy=".38em">指定医療機関<tspan class="c">(217)</tspan></text></g>
<g id="c11-4"><ellipse class="lf" cx="656" cy="621" rx="9" ry="13.5"/><text class="t" transform="translate(656,621) rotate(-90)" dy=".38em">受ける<tspan class="c">(192)</tspan></text></g>
<g id="c11-5"><ellipse class="lf" cx="683" cy="625" rx="10.5" ry="15.5"/><text class="t" transform="translate(683,625) rotate(-90)" dy=".38em">指定歯科医療機関<tspan class="c">(320)</tspan></text></g>
<g id="c11-6"><ellipse class="lf" cx="711" cy="695" rx="9" ry="13.5"/><text class="t" transform="translate(711,695) rotate(-90)" dy=".38em">さっぽろ市<tspan class="c">(230)</tspan></text></g>
<g id="c11-7"><ellipse class="lf" cx="676" cy="740" rx="7.5" ry="11"/><text class="t" transform="translate(676,740) rotate(-90)" dy=".38em">指定歯科<tspan class="c">(42)</tspan></text></g>
<g id="c11-8"><ellipse class="lf" cx="570" cy="719" rx="7.5" ry="11"/><text class="t" transform="translate(570,719) rotate(-90)" dy=".38em">受診券<tspan class="c">(18)</tspan></text></g>
<g id="c11-9"><ellipse class="lf" cx="593" cy="765" rx="7.5" ry="11"/><text class="t" transform="translate(593,765) rotate(-90)" dy=".38em">近い<tspan class="c">(16)</tspan></text></g>
<g id="c11-10"><ellipse class="lf" cx="621" cy="806" rx="7.5" ry="11"/><text class="t" transform="translate(621,806) rotate(-90)" dy=".38em">指定歯科医院<tspan class="c">(21)</tspan></text></g>
<g id="c11-11"><ellipse class="lf" cx="660" cy="889" rx="7.5" ry="11"/><text class="t" transform="translate(660,889) rotate(-90)" dy=".38em">受ける<tspan class="c">(18)</tspan></text></g>
<g id="c11-12"><ellipse class="lf" cx="642" cy="936" rx="7.5" ry="11"/><text class="t" transform="translate(642,936) rotate(-90)" dy=".38em">日本脳炎ワクチン<tspan class="c">(18)</tspan></text></g>
<g id="c11-13"><ellipse class="lf" cx="663" cy="1056" rx="7.5" ry="11"/><text class="t" transform="translate(663,1056) rotate(-90)" dy=".38em">日本脳炎ワクチン予防接種<tspan class="c">(21)</tspan></text></g>
<g id="c11-14"><ellipse class="lf" cx="625" cy="1028" rx="7.5" ry="11"/><text class="t" transform="translate(625,1028) rotate(-90)" dy=".38em">豊平区<tspan class="c">(20)</tspan></text></g>
<g id="c11-15"><ellipse class="lf" cx="686" cy="1088" rx="7.5" ry="11"/><text class="t" transform="translate(686,1088) rotate(-90)" dy=".38em">健診<tspan class="c">(21)</tspan></text></g>
<g id="c11-16"><ellipse class="lf" cx="743" cy="1080" rx="7.5" ry="11"/><text class="t" transform="translate(743,1080) rotate(-90)"><tspan x="0" y="-4.3">高齢者インフルエンザ</tspan><tspan x="0" y="15.7">予防接種<tspan class="c">(36)</tspan></tspan></text></g>
<g id="c11-17"><ellipse class="lf" cx="780" cy="940" rx="7.5" ry="11"/><text class="t" transform="translate(780,940) rotate(-90)"><tspan x="0" y="-4.3">高齢者肺炎</tspan><tspan x="0" y="15.7">球菌ワクチン<tspan class="c">(26)</tspan></tspan></text></g>
<g id="c11-18"><ellipse class="lf" cx="751" cy="848" rx="10.5" ry="15.5"/><text class="t" transform="translate(751,848) rotate(-90)"><tspan x="0" y="-3.8">高齢者肺炎球菌</tspan><tspan x="0" y="15.2">ワクチン予防接種<tspan class="c">(502)</tspan></tspan></text></g>
<g id="c11-19"><ellipse class="lf" cx="679" cy="822" rx="9" ry="13.5"/><text class="t" transform="translate(679,822) rotate(-90)" dy=".38em">歯周病検診<tspan class="c">(217)</tspan></text></g>
<g id="c11-20"><ellipse class="lf" cx="705" cy="810" rx="9" ry="13.5"/><text class="t" transform="translate(705,810) rotate(-90)" dy=".38em">歯周疾患検診<tspan class="c">(151)</tspan></text></g>
<g id="c11-21"><ellipse class="lf" cx="861" cy="716" rx="7.5" ry="11"/><text class="t" transform="translate(861,716) rotate(-90)" dy=".38em">費用<tspan class="c">(74)</tspan></text></g>
<g id="c11-22"><ellipse class="lf" cx="901" cy="716" rx="10.5" ry="15.5"/><text class="t" transform="translate(901,716) rotate(-90)" dy=".38em">受ける<tspan class="c">(337)</tspan></text></g>
<g id="c11-23"><ellipse class="lf" cx="924" cy="726" rx="7.5" ry="11"/><text class="t" transform="translate(924,726) rotate(-90)" dy=".38em">非課税世帯<tspan class="c">(47)</tspan></text></g>
<g id="c11-24"><ellipse class="lf" cx="953" cy="750" rx="10.5" ry="15.5"/><text class="t" transform="translate(953,750) rotate(-90)" dy=".38em">指定医療機関<tspan class="c">(502)</tspan></text></g>
<g id="c11-25"><ellipse class="lf" cx="976" cy="817" rx="9" ry="13.5"/><text class="t" transform="translate(976,817) rotate(-90)" dy=".38em">市民税非課税世帯<tspan class="c">(114)</tspan></text></g>
<g id="c11-26"><ellipse class="lf" cx="929" cy="807" rx="9" ry="13.5"/><text class="t" transform="translate(929,807) rotate(-90)" dy=".38em">接種する<tspan class="c">(258)</tspan></text></g>
<g id="c11-27"><ellipse class="lf" cx="951" cy="861" rx="9" ry="13.5"/><text class="t" transform="translate(951,861) rotate(-90)" dy=".38em">対象<tspan class="c">(104)</tspan></text></g>
<g id="c11-28"><ellipse class="lf" cx="909" cy="888" rx="10.5" ry="15.5"/><text class="t" transform="translate(909,888) rotate(-90)" dy=".38em">実施医療機関<tspan class="c">(362)</tspan></text></g>
<g id="c11-29"><ellipse class="lf" cx="874" cy="941" rx="7.5" ry="11"/><text class="t" transform="translate(874,941) rotate(-90)" dy=".38em">必要書類<tspan class="c">(68)</tspan></text></g>
<g id="c11-30"><ellipse class="lf" cx="829" cy="897" rx="7.5" ry="11"/><text class="t" transform="translate(829,897) rotate(-90)" dy=".38em">証明書類<tspan class="c">(38)</tspan></text></g>
</g>

<g id="clusters">
<ellipse class="cl" cx="372" cy="479" rx="145" ry="99"/>
<ellipse class="cl" cx="768" cy="284" rx="180" ry="258" transform="rotate(15 768 284)"/>
<ellipse class="cl" cx="369" cy="741" rx="66" ry="62"/>
<ellipse class="cl" cx="416" cy="1018" rx="84" ry="110"/>
<ellipse class="cl" cx="230" cy="1216" rx="53" ry="48"/>
<ellipse class="cl" cx="436" cy="1372" rx="100" ry="146" transform="rotate(-18 436 1372)"/>
<ellipse class="cl" cx="808" cy="1445" rx="250" ry="214" transform="rotate(-20 808 1445)"/>
<ellipse class="cl" cx="1001" cy="1089" rx="102" ry="105"/>
<ellipse class="cl" cx="662" cy="822" rx="165" ry="52" transform="rotate(76 662 822)"/>
<ellipse class="cl" cx="834" cy="842" rx="175" ry="122" transform="rotate(-50 834 842)"/>
</g>

<g id="titles">
<text class="ttl" transform="translate(482,405) rotate(-90)" dy=".38em">国民健康保険について</text>
<text class="ttl" transform="translate(565,393) rotate(-90)" dy=".38em">敬老優待乗車証について</text>
<text class="ttl" transform="translate(270,836) rotate(-90)"><tspan x="0" y="6.5">地域包括支援センター</tspan><tspan x="0" y="28.5">等の電話番号について</tspan></text>
<text class="ttl" transform="translate(516,1076) rotate(-90)"><tspan x="0" y="6.5">除排雪に関する問合せ・</tspan><tspan x="0" y="30.5">苦情等の申出先について</tspan></text>
<text class="ttl" transform="translate(288,1238) rotate(-90)"><tspan x="0" y="6.5">避難所について</tspan><tspan x="0" y="28.5">（胆振東部地震時）</tspan></text>
<text class="ttl" transform="translate(520,1317) rotate(-90)"><tspan x="0" y="6.5">高齢者肺炎球菌ワクチン</tspan><tspan x="0" y="31.5">予防接種について</tspan></text>
<text class="ttl" transform="translate(613,1397) rotate(-90)"><tspan x="0" y="6.5">雪堆積場の開設状況・</tspan><tspan x="0" y="28.5">条件の案内</tspan></text>
<text class="ttl" transform="translate(1088,1014) rotate(-90)"><tspan x="0" y="6.5">とくとく健診の</tspan><tspan x="0" y="27.5">受診・受診案内等について</tspan></text>
<text class="ttl" transform="translate(1021,841) rotate(-90)"><tspan x="0" y="6.5">高齢者肺炎球菌ワクチン</tspan><tspan x="0" y="29.5">予防接種について</tspan></text>
</g>
</svg>
